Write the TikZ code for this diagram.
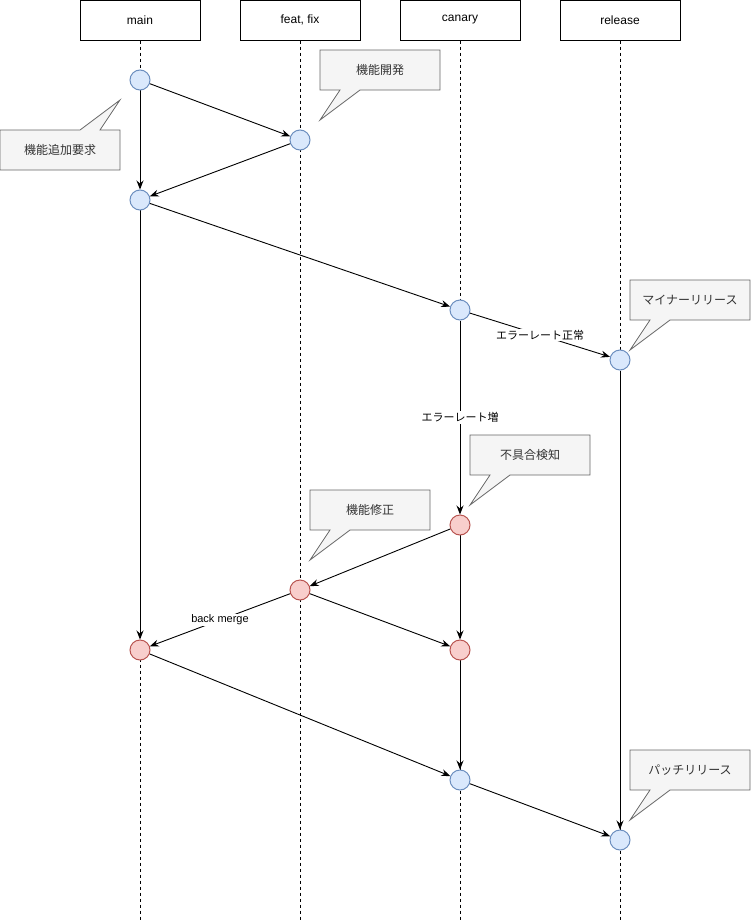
\documentclass[tikz,border=0pt]{standalone}
\usepackage{fontspec}
\setmainfont{Liberation Sans}
\newfontfamily\jp{Noto Sans CJK JP}
\usetikzlibrary{arrows.meta}
\definecolor{bluefill}{HTML}{DAE8FC}
\definecolor{blueline}{HTML}{6C8EBF}
\definecolor{redfill}{HTML}{F8CECC}
\definecolor{redline}{HTML}{B85450}
\definecolor{notefill}{HTML}{F5F5F5}
\definecolor{noteline}{HTML}{666666}
\definecolor{notetext}{HTML}{333333}
\begin{document}
\begin{tikzpicture}[x=1pt,y=-1pt,
  hdr/.style={draw=black, fill=white, line width=1pt, minimum width=120pt, minimum height=40pt, inner sep=0pt, font=\fontsize{12}{14}\selectfont},
  bluec/.style={circle, draw=blueline, fill=bluefill, line width=1pt, minimum size=20pt, inner sep=0pt},
  redc/.style={circle, draw=redline, fill=redfill, line width=1pt, minimum size=20pt, inner sep=0pt},
  lifeline/.style={draw=black, dash pattern=on 3pt off 3pt, line width=0.7pt},
  flow/.style={draw=black, line width=0.9pt, -{Stealth[length=9pt,width=7pt,inset=3pt]}},
  lbl/.style={fill=white, text=black, font=\jp\fontsize{11}{13}\selectfont, inner sep=1pt},
  note/.style={draw=noteline, fill=notefill, line width=0.8pt},
  notetxt/.style={text=notetext, font=\jp\fontsize{12}{14}\selectfont, inner sep=0pt}
]
\useasboundingbox (0,0) rectangle (751,921);

% headers
\node[hdr] (hmain) at (140,20) {main};
\node[hdr] (hfeat) at (300,20) {feat, fix};
\node[hdr] (hcan) at (460,20) {canary};
\node[hdr] (hrel) at (620,20) {release};

% lifeline ends
\coordinate (emain) at (140,921);
\coordinate (efeat) at (300,921);
\coordinate (ecan) at (460,921);
\coordinate (erel) at (620,921);

\draw[lifeline] (hmain.south) -- (emain);
\draw[lifeline] (hfeat.south) -- (efeat);
\draw[lifeline] (hcan.south) -- (ecan);
\draw[lifeline] (hrel.south) -- (erel);

% commits
\node[bluec] (m1) at (140,80) {};
\node[bluec] (f1) at (300,140) {};
\node[bluec] (m2) at (140,200) {};
\node[bluec] (c1) at (460,310) {};
\node[bluec] (r1) at (620,360) {};
\node[redc] (c2) at (460,525) {};
\node[redc] (f2) at (300,590) {};
\node[redc] (m3) at (140,650) {};
\node[redc] (c3) at (460,650) {};
\node[bluec] (c4) at (460,780) {};
\node[bluec] (r2) at (620,840) {};

% flows
\draw[flow] (m1) -- (m2);
\draw[flow] (m2) -- (m3);
\draw[flow] (c1) -- node[lbl] (lerr) {エラーレート増} (c2);
\draw[flow] (c2) -- (c3);
\draw[flow] (c3) -- (c4);
\draw[flow] (r1) -- (r2);

\draw[flow] (m1) -- (f1);
\draw[flow] (f1) -- (m2);
\draw[flow] (m2) -- (c1);
\draw[flow] (c1) -- node[lbl] (lok) {エラーレート正常} (r1);
\draw[flow] (c2) -- (f2);
\draw[flow] (f2) -- node[lbl, font=\fontsize{11}{13}\selectfont] (lbm) {back merge} (m3);
\draw[flow] (f2) -- (c3);
\draw[flow] (m3) -- (c4);
\draw[flow] (c4) -- (r2);

% callouts
\draw[note] (0,130) -- (80,130) -- (120,100) -- (100,130) -- (120,130) -- (120,170) -- (0,170) -- cycle;
\node[notetxt] (n1) at (60,150) {機能追加要求};

\draw[note] (320,50) -- (440,50) -- (440,90) -- (360,90) -- (320,120) -- (340,90) -- (320,90) -- cycle;
\node[notetxt] (n2) at (380,70) {機能開発};

\draw[note] (630,280) -- (750,280) -- (750,320) -- (670,320) -- (630,350) -- (650,320) -- (630,320) -- cycle;
\node[notetxt] (n3) at (690,300) {マイナーリリース};

\draw[note] (470,435) -- (590,435) -- (590,475) -- (510,475) -- (470,505) -- (490,475) -- (470,475) -- cycle;
\node[notetxt] (n4) at (530,455) {不具合検知};

\draw[note] (310,490) -- (430,490) -- (430,530) -- (350,530) -- (310,560) -- (330,530) -- (310,530) -- cycle;
\node[notetxt] (n5) at (370,510) {機能修正};

\draw[note] (630,750) -- (750,750) -- (750,790) -- (670,790) -- (630,820) -- (650,790) -- (630,790) -- cycle;
\node[notetxt] (n6) at (690,770) {パッチリリース};
\end{tikzpicture}
\end{document}
